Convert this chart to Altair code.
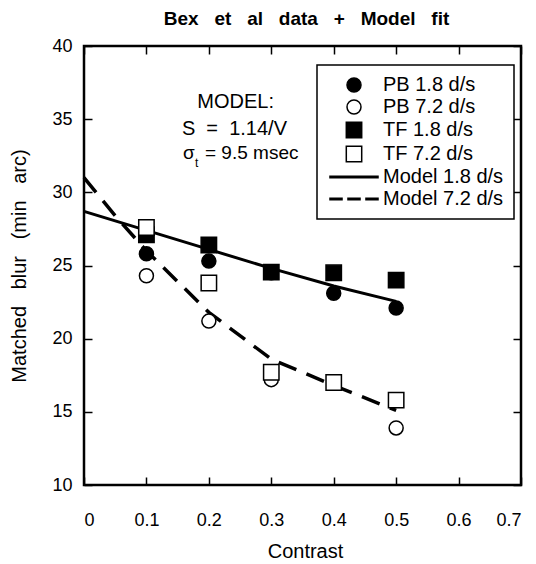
import altair as alt
import pandas as pd

# ---------------- data ----------------
contrast = [0.1, 0.2, 0.3, 0.4, 0.5]
pb_slow = [25.8, 25.3, 24.5, 23.1, 22.1]      # PB 1.8 d/s (filled circles)
pb_fast = [24.3, 21.2, 17.2, 17.0, 13.9]      # PB 7.2 d/s (open circles)
tf_slow = [27.1, 26.4, 24.55, 24.5, 24.0]     # TF 1.8 d/s (filled squares)
tf_fast = [27.6, 23.8, 17.7, 17.0, 15.8]      # TF 7.2 d/s (open squares)

model_slow_x = [0.0, 0.1, 0.2, 0.3, 0.4, 0.5]
model_slow_y = [28.7, 27.4, 26.1, 24.8, 23.6, 22.55]
model_fast_x = [0.0, 0.05, 0.1, 0.2, 0.3, 0.4, 0.5]
model_fast_y = [31.0, 28.4, 26.0, 21.8, 18.6, 16.8, 15.1]

NB = "\u00a0"
series_names = ["PB 1.8 d/s", "PB 7.2 d/s", "TF 1.8 d/s", "TF 7.2 d/s",
                "Model 1.8 d/s", "Model 7.2 d/s"]
x_ticks = [0, 0.1, 0.2, 0.3, 0.4, 0.5, 0.6, 0.7]
y_ticks = [10, 15, 20, 25, 30, 35, 40]

note_text = ["MODEL:", "S" + NB + " =" + NB + " 1.14/V"]
note_x = [0.243, 0.241]
note_y = [36.17, 34.32]
sigma_text = ["\u03c3", "t", "= 9.5 msec"]
sigma_x = [0.1586, 0.1778, 0.1938]
sigma_y = [32.72, 32.02, 32.72]

title_text = ("Bex" + NB + NB + " et" + NB + NB + " al" + NB + NB + " data" + NB + NB +
              " +" + NB + NB + " Model" + NB + NB + " fit")
y_title = "Matched" + NB + NB + " blur" + NB + NB + " (min" + NB + NB + " arc)"

# ---------------- tables ----------------
rows = []
for name, vals in zip(series_names[:4], [pb_slow, pb_fast, tf_slow, tf_fast]):
    for c, v in zip(contrast, vals):
        rows.append({"contrast": c, "blur": v, "series": name})
pts = pd.DataFrame(rows)
m_slow = pd.DataFrame({"contrast": model_slow_x, "blur": model_slow_y})
m_fast = pd.DataFrame({"contrast": model_fast_x, "blur": model_fast_y})
notes = pd.DataFrame({"x": note_x, "y": note_y, "t": note_text})
sig = pd.DataFrame({"x": sigma_x, "y": sigma_y, "t": sigma_text})

W, H = 437, 439
FONT = "Liberation Sans"

SQ = "M-1.1,-1.1H1.1V1.1H-1.1Z"
LINE = "M-3.43,-0.11H3.43V0.11H-3.43Z"
DASH = ("M-3.43,-0.11H-1.71V0.11H-3.43Z "
        "M-0.86,-0.11H0.86V0.11H-0.86Z "
        "M1.71,-0.11H3.43V0.11H1.71Z")
shapes = ["circle", "circle", SQ, SQ, LINE, DASH]
fills = ["black", "white", "black", "white", "black", "black"]
strokes = ["black"] * 6

xs = alt.Scale(domain=[0, 0.7], nice=False, zero=False)
ys = alt.Scale(domain=[10, 40], nice=False, zero=False)

x_axis = alt.Axis(values=x_ticks, offset=-8, tickSize=8, domain=False, grid=False,
                  labelExpr="datum.value == 0 ? '0' : format(datum.value, '.1f')",
                  labelPadding=26, title="Contrast", titlePadding=12,
                  titleX=221, titleFontSize=20)
y_axis = alt.Axis(values=y_ticks, offset=-8, tickSize=8, domain=False, grid=False,
                  format="d", labelPadding=12, title=y_title,
                  titlePadding=22, titleFontSize=20)

legend = alt.Legend(orient="none", legendX=233, legendY=19, title=None,
                    labelFont=FONT, labelFontSize=20, labelColor="black",
                    symbolSize=196, symbolStrokeColor="black", symbolStrokeWidth=1.5,
                    symbolOpacity=1, symbolOffset=17, labelOffset=19,
                    padding=10, rowPadding=2, strokeColor="black", fillColor="white")

x_enc = alt.X("contrast:Q", scale=xs, axis=x_axis)
y_enc = alt.Y("blur:Q", scale=ys, axis=y_axis)

line_slow = alt.Chart(m_slow).mark_line(color="black", strokeWidth=3).encode(x=x_enc, y=y_enc)
line_fast = alt.Chart(m_fast).mark_line(color="black", strokeWidth=3.5,
                                        strokeDash=[19, 11]).encode(x=x_enc, y=y_enc)

points = alt.Chart(pts).mark_point(size=196, strokeWidth=1.5, opacity=1).encode(
    x=x_enc, y=y_enc,
    shape=alt.Shape("series:N", scale=alt.Scale(domain=series_names, range=shapes),
                    legend=legend),
    fill=alt.Fill("series:N", scale=alt.Scale(domain=series_names, range=fills),
                  legend=legend),
    stroke=alt.Stroke("series:N", scale=alt.Scale(domain=series_names, range=strokes),
                      legend=legend),
)

note_marks = alt.Chart(notes).mark_text(font=FONT, fontSize=20, color="black",
                                        align="center", baseline="middle").encode(
    x=alt.X("x:Q", scale=xs), y=alt.Y("y:Q", scale=ys), text="t:N")

sig_big = alt.Chart(sig).transform_filter("datum.t != 't'").mark_text(
    font=FONT, fontSize=19, color="black", align="left", baseline="middle").encode(
    x=alt.X("x:Q", scale=xs), y=alt.Y("y:Q", scale=ys), text="t:N")
sig_small = alt.Chart(sig).transform_filter("datum.t == 't'").mark_text(
    font=FONT, fontSize=12, color="black", align="left", baseline="middle").encode(
    x=alt.X("x:Q", scale=xs), y=alt.Y("y:Q", scale=ys), text="t:N")

main = alt.layer(line_slow, line_fast, points, note_marks, sig_big, sig_small)

mirror = alt.Chart(pts).mark_point(opacity=0).encode(
    x=alt.X("contrast:Q", scale=xs,
            axis=alt.Axis(orient="top", values=x_ticks, offset=-8, tickSize=8,
                          domain=False, grid=False, labels=False, title=None)),
    y=alt.Y("blur:Q", scale=ys,
            axis=alt.Axis(orient="right", values=y_ticks, offset=-8, tickSize=8,
                          domain=False, grid=False, labels=False, title=None)),
)

chart = alt.layer(main, mirror).resolve_scale(x="independent", y="independent").properties(
    width=W, height=H,
    title=alt.TitleParams(title_text, font=FONT, fontSize=19, fontWeight="bold",
                          color="black", anchor="middle", offset=8, dx=4),
    autosize=alt.AutoSizeParams(type="none"),
    padding={"left": 76, "top": 38, "right": 7, "bottom": 80},
).configure_view(stroke="black", strokeWidth=2.5).configure_axis(
    labelFont=FONT, labelFontSize=18, labelColor="black",
    tickColor="black", tickWidth=1.5,
    titleFont=FONT, titleFontWeight="normal", titleColor="black",
).configure_legend(strokeWidth=1.5)

chart.save("out.html", embed_options={"renderer": "svg", "actions": False})
